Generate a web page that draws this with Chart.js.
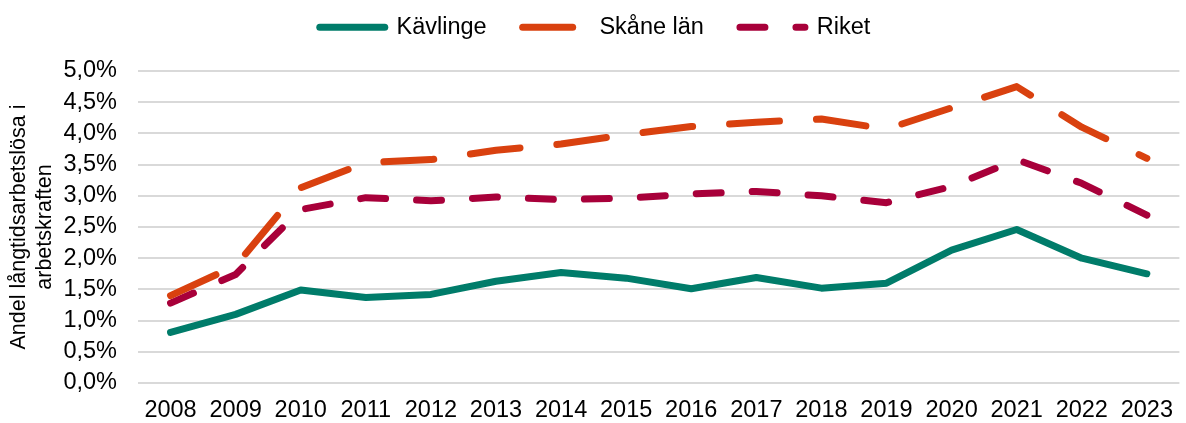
<!DOCTYPE html>
<html lang="sv">
<head>
<meta charset="utf-8">
<title>Långtidsarbetslösa</title>
<script src="https://cdn.jsdelivr.net/npm/chart.js@4.4.1/dist/chart.umd.min.js"></script>
<style>
  html, body { margin: 0; padding: 0; background: #fff; }
  #wrap { width: 1186px; height: 423px; position: relative; }
</style>
</head>
<body>
<div id="wrap"><canvas id="chart"></canvas></div>
<script>
// data (andel i procent)
const years = ["2008","2009","2010","2011","2012","2013","2014","2015","2016","2017","2018","2019","2020","2021","2022","2023"];
const kavlinge = [0.81, 1.10, 1.49, 1.37, 1.42, 1.63, 1.77, 1.68, 1.51, 1.69, 1.52, 1.60, 2.13, 2.46, 2.00, 1.75];
const skane = [1.40, 1.88, 3.13, 3.53, 3.58, 3.73, 3.83, 3.98, 4.11, 4.18, 4.23, 4.07, 4.41, 4.75, 4.10, 3.60];
const riket = [1.28, 1.74, 2.78, 2.97, 2.92, 2.98, 2.94, 2.96, 3.03, 3.07, 3.00, 2.89, 3.15, 3.58, 3.20, 2.69];
const yTicks = [0, 0.5, 1, 1.5, 2, 2.5, 3, 3.5, 4, 4.5, 5];

const FONT = "'Liberation Sans', Arial, sans-serif";

// nudge the legend a bit like in the original
const legendShift = {
  id: "legendShift",
  afterLayout(chart) {
    const l = chart.legend;
    if (!l) return;
    l.left += 2; l.right += 2;
    l.top -= 22; l.bottom -= 22;
  }
};

const ctx = document.getElementById("chart");
new Chart(ctx, {
  type: "line",
  data: {
    labels: years,
    datasets: [
      { label: "Kävlinge", data: kavlinge, borderColor: "#007C6A", backgroundColor: "#007C6A",
        borderWidth: 7, borderCapStyle: "round", borderJoinStyle: "round", pointRadius: 0, tension: 0 },
      { label: "Skåne län", data: skane, borderColor: "#D9410F", backgroundColor: "#D9410F",
        borderWidth: 7, borderDash: [50, 37], borderCapStyle: "round", borderJoinStyle: "round", pointRadius: 0, tension: 0 },
      { label: "Riket", data: riket, borderColor: "#A8003A", backgroundColor: "#A8003A",
        borderWidth: 7, borderDash: [25, 31], borderCapStyle: "round", borderJoinStyle: "round", pointRadius: 0, tension: 0 }
    ]
  },
  options: {
    responsive: true,
    maintainAspectRatio: false,
    animation: false,
    layout: { padding: { left: 0, right: 0, top: 1.5, bottom: 0 } },
    plugins: {
      tooltip: { enabled: false },
      legend: {
        position: "top",
        labels: {
          usePointStyle: true,
          pointStyle: "line",
          pointStyleWidth: 65,
          boxHeight: 20,
          padding: 36,
          color: "#000",
          font: { family: FONT, size: 23.5 },
          generateLabels(chart) {
            return chart.data.datasets.map((ds, i) => ({
              text: ds.label,
              datasetIndex: i,
              fillStyle: ds.borderColor,
              strokeStyle: ds.borderColor,
              fontColor: "#000",
              lineWidth: ds.borderWidth,
              lineCap: "round",
              lineDash: ds.borderDash || [],
              pointStyle: "line",
              hidden: false
            }));
          }
        }
      }
    },
    scales: {
      x: {
        offset: true,
        grid: { display: false, drawTicks: false },
        border: { display: false },
        afterFit(axis) { axis.height = 40; },
        ticks: { color: "#000", padding: 13, maxRotation: 0, autoSkip: false, font: { family: FONT, size: 23.5 } }
      },
      y: {
        min: 0,
        max: 5,
        afterBuildTicks(axis) { axis.ticks = yTicks.map(v => ({ value: v })); },
        afterFit(axis) { axis.width = 138; },
        grid: { color: "#d9d9d9", lineWidth: 2, drawTicks: false },
        border: { display: false },
        ticks: {
          color: "#000",
          padding: 21,
          autoSkip: false,
          font: { family: FONT, size: 23.5 },
          callback: v => v.toFixed(1).replace(".", ",") + "%"
        },
        title: {
          display: true,
          text: ["Andel långtidsarbetslösa i", "arbetskraften"],
          color: "#000",
          padding: { top: 7, bottom: 7 },
          font: { family: FONT, size: 21.5, lineHeight: 1.17 }
        }
      }
    }
  },
  plugins: [legendShift]
});
</script>
</body>
</html>
